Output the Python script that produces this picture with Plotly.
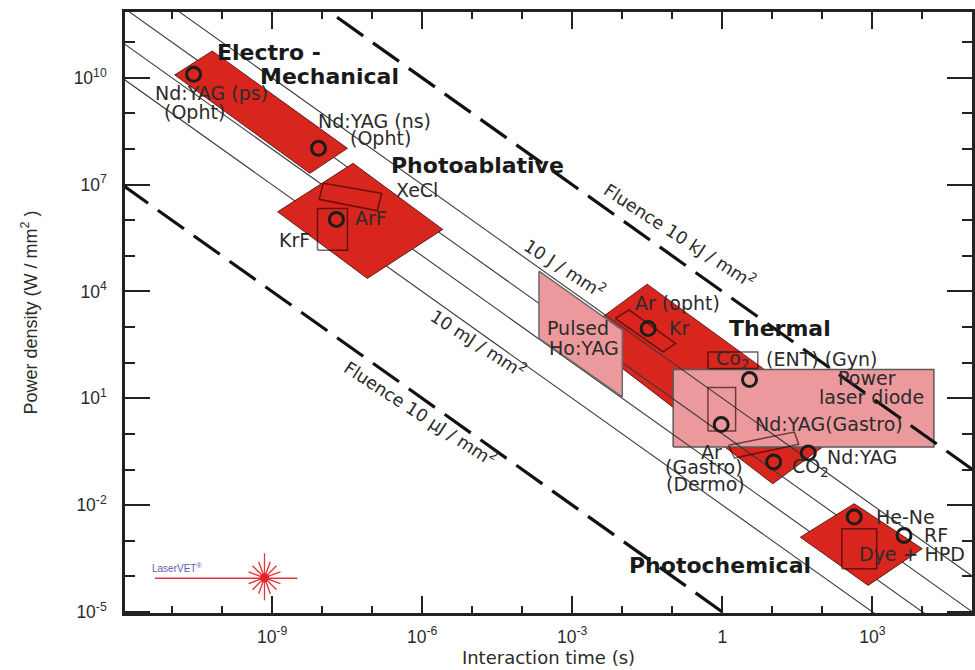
import math
import plotly.graph_objects as go

# ---------------- axis ticks ----------------
X_MAJOR = [1e-9, 1e-6, 1e-3, 1, 1e3]
X_MAJOR_TEXT = ["10<sup>-9</sup>", "10<sup>-6</sup>", "10<sup>-3</sup>", "1", "10<sup>3</sup>"]
X_MINOR = [1e-11, 1e-10, 1e-8, 1e-7, 1e-5, 1e-4, 1e-2, 1e-1, 1e1, 1e2, 1e4]
Y_MAJOR = [1e-5, 1e-2, 1e1, 1e4, 1e7, 1e10]
Y_MAJOR_TEXT = ["10<sup>-5</sup>", "10<sup>-2</sup>", "10<sup>1</sup>",
                "10<sup>4</sup>", "10<sup>7</sup>", "10<sup>10</sup>"]
Y_MINOR = [1e-4, 1e-3, 1e-1, 1, 1e2, 1e3, 1e5, 1e6, 1e8, 1e9, 1e11]

# ---------------- constant-fluence lines (J/mm^2), P = F / t ----------------
FLUENCE_THIN = [1e-2, 1e-1, 1, 10]
FLUENCE_DASHED = [1e-5, 1e4]
TIME_SPAN = [1e-12, 1e5]

# ---------------- interaction regimes: vertex times (s), power densities (W/mm^2) ----------------
ELECTRO_T = [1.13e-11, 6.37e-11, 3.21e-8, 5.70e-9]
ELECTRO_P = [1.21e10, 5.71e10, 1.05e8, 2.08e7]
ABLATIVE_T = [1.29e-9, 4.16e-8, 2.58e-6, 8.02e-8]
ABLATIVE_P = [1.73e6, 3.98e7, 5.55e5, 2.33e4]
THERMAL_T = [1.32e-3, 3.14e-2, 303, 10.2]
THERMAL_P = [612, 1.61e4, 1.35, 3.96e-2]
CHEMICAL_T = [36.2, 432, 9.91e3, 820]
CHEMICAL_P = [1.26e-3, 1.10e-2, 5.97e-4, 5.55e-5]
HOYAG_T = [2.16e-4, 1.0e-2, 1.0e-2, 2.16e-4]
HOYAG_P = [3.73e4, 818, 10.9, 479]
DIODE_T = [0.104, 1.69e4]
DIODE_P = [0.429, 64.3]

# ---------------- individual laser footprints ----------------
XECL_T = [1.05e-8, 1.55e-7, 1.27e-7, 8.75e-9]
XECL_P = [1.09e7, 5.70e6, 1.85e6, 3.87e6]
KRF_T = [8.09e-9, 3.21e-8]
KRF_P = [1.45e5, 2.16e6]
AR_OPHT_T = [7.23e-3, 1.37e-2, 0.116, 6.53e-2]
AR_OPHT_P = [1.75e3, 3.05e3, 346, 201]
CO2_ENT_T = [0.515, 5.11]
CO2_ENT_P = [68.7, 201]
NDYAG_GASTRO_T = [0.515, 1.84]
NDYAG_GASTRO_P = [1.21, 20.0]
AR_GASTRO_T = [1.33, 27.5, 33.5, 1.75]
AR_GASTRO_P = [0.479, 1.13, 0.511, 0.210]
DYE_HPD_T = [244, 1216]
DYE_HPD_P = [1.64e-4, 2.18e-3]

# ---------------- typical operating points ----------------
SPOT_NAMES = ["Nd:YAG ps", "Nd:YAG ns", "ArF", "Kr", "CO2 ENT/Gyn", "Nd:YAG Gastro",
              "CO2", "Nd:YAG", "He-Ne", "RF"]
SPOT_T = [2.70e-11, 8.47e-9, 1.93e-8, 3.29e-2, 3.49, 0.948, 10.6, 52.2, 432, 4276]
SPOT_P = [1.26e10, 1.05e8, 1.06e6, 914, 33.7, 1.83, 0.163, 0.291, 4.61e-3, 1.41e-3]

RED = "#D8261E"
PINK = "#EC999D"
INK = "#1c1c1c"
TEXT = "#2b2b2b"
OUTLINE = "rgba(35,0,0,0.62)"


def polygon(t, p, fill=None, edge=OUTLINE, width=1.5):
    xs = list(t) + [t[0]]
    ys = list(p) + [p[0]]
    return go.Scatter(
        x=xs, y=ys, mode="lines",
        fill="toself" if fill else "none",
        fillcolor=fill,
        line=dict(color=edge, width=width),
        hoverinfo="skip", showlegend=False,
    )


def box(t_pair, p_pair, fill=None, edge=OUTLINE, width=1.5):
    t0, t1 = t_pair
    p0, p1 = p_pair
    return polygon([t0, t1, t1, t0], [p0, p0, p1, p1], fill, edge, width)


fig = go.Figure()

# regions that the fluence lines run over
fig.add_trace(polygon(THERMAL_T, THERMAL_P, RED, "rgba(60,10,10,0.8)", 1))
fig.add_trace(box(DIODE_T, DIODE_P, PINK, "#5a5a5a", 1.5))

# fluence iso-lines
for f in FLUENCE_THIN:
    fig.add_trace(go.Scatter(
        x=TIME_SPAN, y=[f / t for t in TIME_SPAN], mode="lines",
        line=dict(color="#3a3a3a", width=1.1),
        hoverinfo="skip", showlegend=False))
for f in FLUENCE_DASHED:
    fig.add_trace(go.Scatter(
        x=TIME_SPAN, y=[f / t for t in TIME_SPAN], mode="lines",
        line=dict(color="#111111", width=3.2, dash="32px,12px"),
        hoverinfo="skip", showlegend=False))

# opaque regimes
fig.add_trace(polygon(ELECTRO_T, ELECTRO_P, RED, "rgba(60,10,10,0.8)", 1))
fig.add_trace(polygon(ABLATIVE_T, ABLATIVE_P, RED, "rgba(60,10,10,0.8)", 1))
fig.add_trace(polygon(CHEMICAL_T, CHEMICAL_P, RED, "rgba(60,10,10,0.8)", 1))
fig.add_trace(polygon(HOYAG_T, HOYAG_P, PINK, "#6a6a6a", 1.5))

# laser footprints
fig.add_trace(polygon(XECL_T, XECL_P))
fig.add_trace(box(KRF_T, KRF_P))
fig.add_trace(polygon(AR_OPHT_T, AR_OPHT_P))
fig.add_trace(box(CO2_ENT_T, CO2_ENT_P))
fig.add_trace(box(NDYAG_GASTRO_T, NDYAG_GASTRO_P))
fig.add_trace(polygon(AR_GASTRO_T, AR_GASTRO_P))
fig.add_trace(box(DYE_HPD_T, DYE_HPD_P))

# operating points
fig.add_trace(go.Scatter(
    x=SPOT_T, y=SPOT_P, mode="markers", text=SPOT_NAMES,
    marker=dict(symbol="circle-open", size=14, color=INK, line=dict(width=3, color=INK)),
    hoverinfo="text", showlegend=False))

# ---------------- labels (positions in log10 units) ----------------
LABEL_FONT = "DejaVu Sans, Liberation Sans, Arial, sans-serif"
annotations = []


def label(text, lx, ly, size=19, bold=False, angle=0, color=TEXT):
    annotations.append(dict(
        text=f"<b>{text}</b>" if bold else text,
        x=lx, y=ly, xref="x", yref="y", showarrow=False,
        xanchor="center", yanchor="middle", textangle=angle,
        font=dict(family=LABEL_FONT, size=size, color=color)))


HEAD = "#1a1a1a"
label("Electro -", -9.06, 10.70, 22, True, color=HEAD)
label("Mechanical", -7.86, 10.03, 22, True, color=HEAD)
label("Photoablative", -4.89, 7.55, 22, True, color=HEAD)
label("Thermal", 1.15, 2.97, 22, True, color=HEAD)
label("Photochemical", -0.05, -3.69, 22, True, color=HEAD)

label("Nd:YAG (ps)", -10.21, 9.58)
label("(Opht)", -10.55, 9.04)
label("Nd:YAG (ns)", -6.96, 8.78)
label("(Opht)", -6.84, 8.32)
label("XeCl", -6.11, 6.85)
label("ArF", -7.02, 6.06)
label("KrF", -8.56, 5.44)
label("Pulsed", -2.88, 2.97)
label("Ho:YAG", -2.76, 2.41)
label("Ar (opht)", -0.89, 3.67)
label("Kr", -0.87, 2.97)
label("Co<sub>2</sub>", 0.21, 2.10)
label("(ENT) (Gyn)", 2.00, 2.10)
label("Power", 2.90, 1.56)
label("laser diode", 2.98, 1.03)
label("Nd:YAG(Gastro)", 2.14, 0.27)
label("Ar", -0.21, -0.52)
label("(Gastro)", -0.37, -0.94)
label("(Dermo)", -0.33, -1.42)
label("CO<sub>2</sub>", 1.76, -0.94)
label("Nd:YAG", 2.80, -0.66)
label("He-Ne", 3.66, -2.34)
label("RF", 4.28, -2.85)
label("Dye + HPD", 3.80, -3.36)

label("Fluence 10 kJ / mm<sup>2</sup>", -0.85, 5.58, 17.5, angle=33)
label("10 J / mm<sup>2</sup>", -3.14, 4.66, 17.5, angle=33)
label("10 mJ / mm<sup>2</sup>", -4.87, 2.55, 17.5, angle=33)
label("Fluence 10 \u00b5J / mm<sup>2</sup>", -6.03, 0.58, 17.5, angle=33)

# ---------------- LaserVET mark (paper units) ----------------
W_PX, H_PX = 850.0, 600.7
STAR_RED = "#E5353B"
annotations.append(dict(
    text="LaserVET<sup>\u00ae</sup>", x=0.061, y=0.0745, xref="paper", yref="paper",
    showarrow=False, xanchor="center", yanchor="middle",
    font=dict(family="Liberation Sans, Arial, sans-serif", size=10, color="#5b5ea8")))

shapes = [
    dict(type="line", xref="paper", yref="paper", x0=0.0353, x1=0.2035, y0=0.0578, y1=0.0578,
         line=dict(color=STAR_RED, width=1.3)),
    dict(type="line", xref="paper", yref="paper", x0=0.1647, x1=0.1647, y0=0.0211, y1=0.0994,
         line=dict(color=STAR_RED, width=1.3)),
]
cx, cy = 0.1647, 0.0586
for ang in (20, 45, 70, 110, 135, 160):
    dx = 17 * math.cos(math.radians(ang)) / W_PX
    dy = 17 * math.sin(math.radians(ang)) / H_PX
    shapes.append(dict(type="line", xref="paper", yref="paper",
                       x0=cx - dx, x1=cx + dx, y0=cy - dy, y1=cy + dy,
                       line=dict(color=STAR_RED, width=1.4)))
r = 4.5
shapes.append(dict(type="circle", xref="paper", yref="paper",
                   x0=cx - r / W_PX, x1=cx + r / W_PX, y0=cy - r / H_PX, y1=cy + r / H_PX,
                   fillcolor="#E0262A", line=dict(width=0)))

AXIS_COLOR = "#222222"
TICK_FONT = dict(family="Liberation Sans, Arial, sans-serif", size=17.5, color=TEXT)

fig.update_layout(
    width=975, height=670,
    margin=dict(l=125, r=0, t=12, b=57),
    paper_bgcolor="white", plot_bgcolor="white",
    showlegend=False,
    annotations=annotations,
    shapes=shapes,
    xaxis=dict(
        type="log", range=[-11.94, 4.99],
        tickmode="array", tickvals=X_MAJOR, ticktext=X_MAJOR_TEXT,
        ticks="inside", ticklen=17, tickwidth=2, tickcolor=AXIS_COLOR,
        minor=dict(tickmode="array", tickvals=X_MINOR, ticks="inside",
                   ticklen=7, tickwidth=1.5, tickcolor=AXIS_COLOR, showgrid=False),
        showline=True, linewidth=2.5, linecolor=AXIS_COLOR, mirror="ticks",
        showgrid=False, zeroline=False, tickfont=TICK_FONT, ticklabelstandoff=6,
        title=dict(text="Interaction time (s)", standoff=6,
                   font=dict(family=LABEL_FONT, size=18, color=TEXT)),
    ),
    yaxis=dict(
        type="log", range=[-5.03, 11.85],
        tickmode="array", tickvals=Y_MAJOR, ticktext=Y_MAJOR_TEXT,
        ticks="inside", ticklen=25, tickwidth=2, tickcolor=AXIS_COLOR,
        minor=dict(tickmode="array", tickvals=Y_MINOR, ticks="inside",
                   ticklen=10, tickwidth=1.5, tickcolor=AXIS_COLOR, showgrid=False),
        showline=True, linewidth=2.5, linecolor=AXIS_COLOR, mirror="ticks",
        showgrid=False, zeroline=False, tickfont=TICK_FONT, ticklabelstandoff=12,
        title=dict(text="Power density (W / mm<sup>2</sup> )", standoff=32,
                   font=dict(family="Liberation Sans, Arial, sans-serif", size=18, color=TEXT)),
    ),
)

fig.write_html("out.html")
